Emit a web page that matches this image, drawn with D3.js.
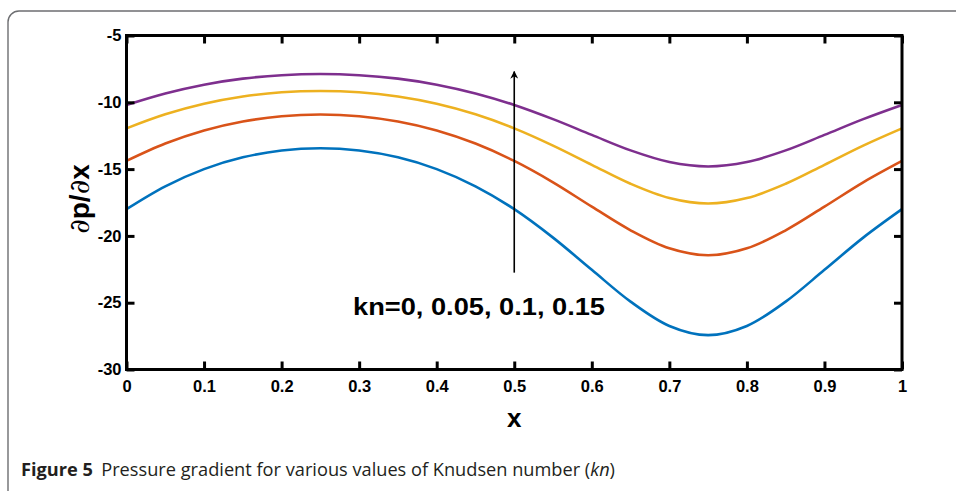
<!DOCTYPE html>
<html>
<head>
<meta charset="utf-8">
<script src="https://cdn.jsdelivr.net/npm/d3@7"></script>
<style>
  html, body { margin: 0; padding: 0; background: #fff; }
  svg { display: block; }
</style>
</head>
<body>
<svg id="fig" width="956" height="491"></svg>
<script>
// Axial position along the channel
const xValues = [0, 0.05, 0.1, 0.15, 0.2, 0.25, 0.3, 0.35, 0.4, 0.45, 0.5,
                 0.55, 0.6, 0.65, 0.7, 0.75, 0.8, 0.85, 0.9, 0.95, 1];

// Pressure gradient dp/dx for each Knudsen number
const kn0    = [-18.0, -16.29, -15.0, -14.12, -13.61, -13.44, -13.61, -14.12, -15.0, -16.29, -18.0,
                -20.13, -22.54, -24.92, -26.74, -27.43, -26.74, -24.92, -22.54, -20.13, -18.0];
const kn005  = [-14.39, -13.09, -12.11, -11.44, -11.04, -10.91, -11.04, -11.44, -12.11, -13.09, -14.39,
                -15.99, -17.81, -19.58, -20.93, -21.45, -20.93, -19.58, -17.81, -15.99, -14.39];
const kn01   = [-11.95, -10.90, -10.11, -9.57, -9.25, -9.15, -9.25, -9.57, -10.11, -10.90, -11.95,
                -13.24, -14.68, -16.10, -17.17, -17.58, -17.17, -16.10, -14.68, -13.24, -11.95];
const kn015  = [-10.2, -9.34, -8.68, -8.23, -7.97, -7.88, -7.97, -8.23, -8.68, -9.34, -10.2,
                -11.26, -12.44, -13.60, -14.47, -14.80, -14.47, -13.60, -12.44, -11.26, -10.2];

const seriesNames = ["kn=0", "kn=0.05", "kn=0.1", "kn=0.15"];
const seriesValues = [kn0, kn005, kn01, kn015];
const seriesColors = ["#0072BD", "#D95319", "#EDB120", "#7E2F8E"];

const xTicks = [0, 0.1, 0.2, 0.3, 0.4, 0.5, 0.6, 0.7, 0.8, 0.9, 1];
const xTickLabels = ["0", "0.1", "0.2", "0.3", "0.4", "0.5", "0.6", "0.7", "0.8", "0.9", "1"];
const yTicks = [-30, -25, -20, -15, -10, -5];
const yTickLabels = ["-30", "-25", "-20", "-15", "-10", "-5"];

// Arrow showing the direction of increasing kn
const arrowX = 0.5;
const arrowFrom = -22.75;
const arrowTo = -7.7;
const arrowLabel = "kn=0, 0.05, 0.1, 0.15";

const svg = d3.select("#fig");

// Figure frame with rounded corner
svg.append("rect")
  .attr("x", 8).attr("y", 11)
  .attr("width", 1000).attr("height", 600)
  .attr("rx", 11).attr("ry", 11)
  .attr("fill", "none")
  .attr("stroke", "#6d6e71")
  .attr("stroke-width", 1.4);

const plot = { left: 126.5, right: 902, top: 35.5, bottom: 369.5 };

const x = d3.scaleLinear().domain([0, 1]).range([plot.left, plot.right]);
const y = d3.scaleLinear().domain([-30, -5]).range([plot.bottom, plot.top]);

const tickFont = "'Liberation Sans', Arial, sans-serif";

// Curves
const line = d3.line()
  .x((d, i) => x(xValues[i]))
  .y(d => y(d))
  .curve(d3.curveCatmullRom.alpha(0.5));

const g = svg.append("g");
seriesValues.forEach((vals, k) => {
  g.append("path")
    .datum(vals)
    .attr("d", line)
    .attr("fill", "none")
    .attr("stroke", seriesColors[k])
    .attr("stroke-width", 2.6)
    .attr("data-name", seriesNames[k]);
});

// Axes: ticks pointing inward on all four sides
function styleAxis(sel) {
  sel.select(".domain").remove();
  sel.selectAll(".tick line").attr("stroke", "#000").attr("stroke-width", 3);
  sel.selectAll(".tick text")
    .attr("font-family", tickFont)
    .attr("font-weight", "bold")
    .attr("font-size", 16.5)
    .attr("fill", "#000");
}

svg.append("g")
  .attr("transform", `translate(0,${plot.bottom})`)
  .call(d3.axisBottom(x).tickValues(xTicks).tickSize(-8).tickPadding(11)
    .tickFormat((d, i) => xTickLabels[i]))
  .call(styleAxis);

svg.append("g")
  .attr("transform", `translate(0,${plot.top})`)
  .call(d3.axisTop(x).tickValues(xTicks).tickSize(-8).tickFormat(""))
  .call(styleAxis);

svg.append("g")
  .attr("transform", `translate(${plot.left},0)`)
  .call(d3.axisLeft(y).tickValues(yTicks).tickSize(-8).tickPadding(5)
    .tickFormat((d, i) => yTickLabels[i]))
  .call(styleAxis);

svg.append("g")
  .attr("transform", `translate(${plot.right},0)`)
  .call(d3.axisRight(y).tickValues(yTicks).tickSize(-8).tickFormat(""))
  .call(styleAxis);

// Box
svg.append("rect")
  .attr("x", plot.left).attr("y", plot.top)
  .attr("width", plot.right - plot.left)
  .attr("height", plot.bottom - plot.top)
  .attr("fill", "none")
  .attr("stroke", "#000")
  .attr("stroke-width", 3);

// Axis titles
svg.append("text")
  .attr("x", x(0.5)).attr("y", 427)
  .attr("text-anchor", "middle")
  .attr("font-family", tickFont)
  .attr("font-weight", "bold")
  .attr("font-size", 26)
  .text("x");

const yl = svg.append("text")
  .attr("transform", "translate(89,199) rotate(-90)")
  .attr("text-anchor", "middle")
  .attr("font-family", tickFont)
  .attr("font-size", 28);
yl.append("tspan").attr("font-family", "'DejaVu Serif', serif").attr("font-weight", "normal").text("∂");
yl.append("tspan").attr("font-weight", "bold").text("p/");
yl.append("tspan").attr("font-family", "'DejaVu Serif', serif").attr("font-weight", "normal").text("∂");
yl.append("tspan").attr("font-weight", "bold").text("x");

// Arrow and annotation
svg.append("defs").append("marker")
  .attr("id", "head")
  .attr("viewBox", "0 0 10 10")
  .attr("refX", 9).attr("refY", 5)
  .attr("markerWidth", 5).attr("markerHeight", 5)
  .attr("markerUnits", "strokeWidth")
  .attr("orient", "auto")
  .append("path")
  .attr("d", "M0,0 L10,5 L0,10 L3,5 Z")
  .attr("fill", "#000");

svg.append("line")
  .attr("x1", x(arrowX)).attr("y1", y(arrowFrom))
  .attr("x2", x(arrowX)).attr("y2", y(arrowTo))
  .attr("stroke", "#000")
  .attr("stroke-width", 1.6)
  .attr("marker-end", "url(#head)");

svg.append("text")
  .attr("x", 353).attr("y", 315)
  .attr("font-family", tickFont)
  .attr("font-weight", "bold")
  .attr("font-size", 23)
  .attr("textLength", 252)
  .attr("lengthAdjust", "spacingAndGlyphs")
  .text(arrowLabel);

// Caption
const cap = svg.append("text")
  .attr("x", 21).attr("y", 476)
  .attr("font-family", "'Open Sans', 'Noto Sans', sans-serif")
  .attr("font-size", 17.5)
  .attr("fill", "#231f20")
  .attr("textLength", 594)
  .attr("lengthAdjust", "spacingAndGlyphs");
cap.append("tspan").attr("font-weight", "bold").text("Figure 5");
cap.append("tspan").attr("dx", 8).text("Pressure gradient for various values of Knudsen number (");
cap.append("tspan").attr("font-style", "italic").text("kn");
cap.append("tspan").text(")");
</script>
</body>
</html>
